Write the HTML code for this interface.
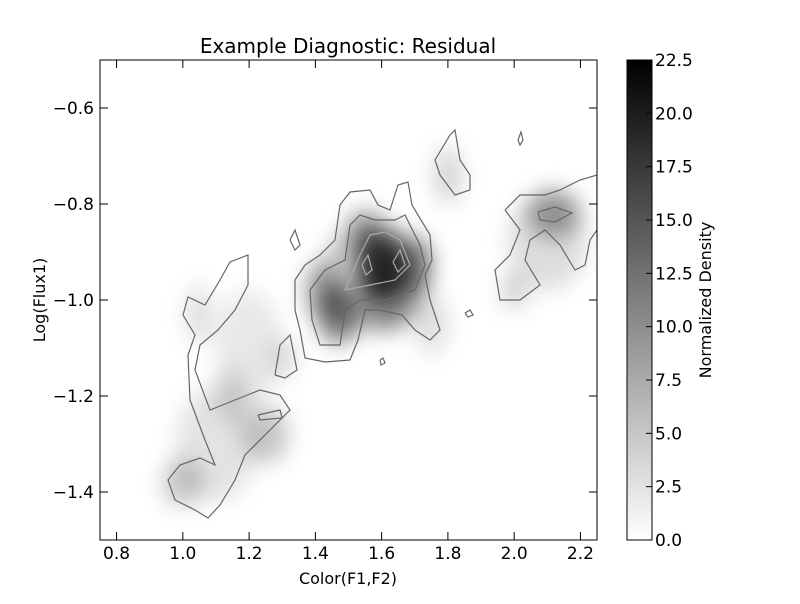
<!DOCTYPE html>
<html><head><meta charset="utf-8"><style>
body{margin:0;background:#fff;font-family:"DejaVu Sans","Liberation Sans",sans-serif}
svg text{font-family:"DejaVu Sans","Liberation Sans",sans-serif}
</style></head><body>
<svg id="chart" width="800" height="600" viewBox="0 0 800 600" xmlns="http://www.w3.org/2000/svg">
<defs>
<filter id="blur" x="-50%" y="-50%" width="200%" height="200%"><feGaussianBlur stdDeviation="11"/></filter>
<linearGradient id="cbgrad" x1="0" y1="1" x2="0" y2="0"><stop offset="0" stop-color="#fff"/><stop offset="1" stop-color="#000"/></linearGradient>
<clipPath id="clip"><rect x="100" y="60" width="497" height="480"/></clipPath>
</defs>
<rect x="0" y="0" width="800" height="600" fill="#fff"/>
<text x="348" y="53" font-size="20" text-anchor="middle">Example Diagnostic: Residual</text>
<g id="blobs" clip-path="url(#clip)" filter="url(#blur)"></g>
<g id="contours" clip-path="url(#clip)"></g>
<rect x="100" y="60" width="497" height="480" fill="none" stroke="#000" stroke-width="1"/>
<g id="axes"></g>
<text x="348" y="584" font-size="16" text-anchor="middle">Color(F1,F2)</text>
<text x="45" y="300" font-size="16" text-anchor="middle" transform="rotate(-90 45 300)">Log(Flux1)</text>
<rect x="627" y="60" width="25" height="480" fill="url(#cbgrad)" stroke="#000"/>
<g id="cbaxis"></g>
<text x="711" y="300" font-size="16" text-anchor="middle" transform="rotate(-90 711 300)">Normalized Density</text>
</svg>
<script>
const xTicks=[0.8,1.0,1.2,1.4,1.6,1.8,2.0,2.2];
const yTicks=[-0.6,-0.8,-1.0,-1.2,-1.4];
const cbTicks=[0,2.5,5,7.5,10,12.5,15,17.5,20,22.5];
const blobX=[1.6,1.47,1.42,1.7,1.55,2.12,2.0,1.8,1.25,1.0,1.15,1.05,1.3,1.62,1.58,2.1,1.1,1.2,1.75];
const blobY=[-0.93,-1.03,-0.98,-0.93,-0.86,-0.82,-0.98,-0.74,-1.28,-1.38,-1.2,-1.03,-1.12,-1.0,-0.95,-0.88,-1.3,-1.1,-1.05];
const blobV=[18,12,8,11,8,8,4,4,5,5,3,3,3,8,5,3,2.5,2,3];
const blobSX=[0.07,0.06,0.05,0.05,0.05,0.08,0.04,0.04,0.07,0.06,0.05,0.04,0.04,0.08,0.16,0.12,0.12,0.1,0.05];
const blobSY=[0.07,0.06,0.06,0.06,0.05,0.05,0.04,0.06,0.06,0.05,0.06,0.06,0.04,0.06,0.12,0.1,0.12,0.12,0.06];
const contourPx=[
[[183,315],[188,297],[205,305],[220,280],[230,262],[248,255],[248,285],[235,310],[218,330],[200,345],[195,370],[210,410],[235,400],[260,390],[280,395],[290,410],[270,430],[245,455],[235,480],[220,505],[208,518],[195,510],[175,500],[168,480],[180,465],[200,458],[215,465],[205,440],[190,400],[188,355],[195,335],[183,315]],
[[295,280],[305,265],[320,255],[335,240],[340,205],[350,192],[370,190],[378,205],[390,210],[398,185],[408,182],[412,205],[430,235],[432,260],[425,275],[430,300],[440,330],[430,340],[415,330],[402,315],[380,310],[365,310],[358,340],[350,360],[325,362],[305,358],[300,330],[295,310],[295,280]],
[[310,290],[325,270],[345,260],[350,225],[360,215],[375,220],[395,220],[405,215],[420,245],[425,265],[415,290],[385,300],[360,300],[345,310],[340,345],[320,345],[312,320],[310,290]],
[[345,290],[360,255],[370,235],[385,232],[400,240],[410,265],[395,280],[370,285],[345,290]],
[[362,265],[368,255],[372,270],[366,275],[362,265]],[[393,262],[400,250],[405,265],[398,272],[393,262]],
[[505,210],[520,195],[545,195],[560,190],[580,180],[597,175],[597,230],[590,240],[585,265],[575,270],[560,245],[545,230],[530,240],[525,260],[540,285],[520,300],[500,300],[495,270],[510,255],[520,230],[505,210]],
[[538,212],[555,207],[572,213],[555,222],[540,220],[538,212]],
[[435,160],[450,135],[455,130],[460,160],[470,175],[470,190],[455,195],[440,175],[435,160]],
[[290,240],[295,230],[300,245],[295,250],[290,240]],
[[275,375],[280,345],[290,335],[297,370],[285,378],[275,375]],
[[258,415],[280,410],[282,418],[260,420],[258,415]],
[[518,140],[521,132],[523,140],[520,145],[518,140]],
[[465,313],[470,310],[473,315],[468,317],[465,313]],
[[380,360],[383,358],[385,363],[381,365],[380,360]]
];
const contourData=contourPx.map(c=>c.map(p=>[0.75+(p[0]-100)/331.333,-0.5-(p[1]-60)/480]));
const X=v=>100+(v-0.75)*497/1.5;
const Y=v=>60+(-0.5-v)*480;
const CB=v=>540-v/22.5*480;
const NS="http://www.w3.org/2000/svg";
function mk(t,a,p){const e=document.createElementNS(NS,t);for(const k in a)e.setAttribute(k,a[k]);p.appendChild(e);return e;}
const bg=document.getElementById('blobs');
blobX.forEach((bx,i)=>{
 const e=mk('ellipse',{cx:X(bx),cy:Y(blobY[i]),rx:blobSX[i]*497/1.5,ry:blobSY[i]*480,fill:'#000','fill-opacity':Math.min(1,blobV[i]/22.5)},bg);
 
 
});
const cg=document.getElementById('contours');
contourData.forEach((c,i)=>{
 const e=mk('polyline',{points:c.map(p=>X(p[0])+','+Y(p[1])).join(' '),fill:'none',stroke:i>=3&&i<=5?'#aaa':'#666','stroke-width':1.2},cg);
 
 
});
const ax=document.getElementById('axes');
xTicks.forEach(v=>{
 mk('line',{x1:X(v),x2:X(v),y1:540,y2:532,stroke:'#000'},ax);
 mk('line',{x1:X(v),x2:X(v),y1:60,y2:68,stroke:'#000'},ax);
 const t=mk('text',{x:X(v),y:559,'font-size':17,'text-anchor':'middle'},ax);t.textContent=v.toFixed(1);
 
 
});
yTicks.forEach(v=>{
 mk('line',{x1:100,x2:108,y1:Y(v),y2:Y(v),stroke:'#000'},ax);
 mk('line',{x1:589,x2:597,y1:Y(v),y2:Y(v),stroke:'#000'},ax);
 const t=mk('text',{x:94,y:Y(v)+6,'font-size':17,'text-anchor':'end'},ax);t.textContent='\u2212'+Math.abs(v).toFixed(1);
 
 
});
const cb=document.getElementById('cbaxis');
cbTicks.forEach(v=>{
 mk('line',{x1:646,x2:652,y1:CB(v),y2:CB(v),stroke:'#000'},cb);
 const t=mk('text',{x:655,y:CB(v)+6,'font-size':17},cb);t.textContent=v.toFixed(1);
 
 
});
</script>
</body></html>
